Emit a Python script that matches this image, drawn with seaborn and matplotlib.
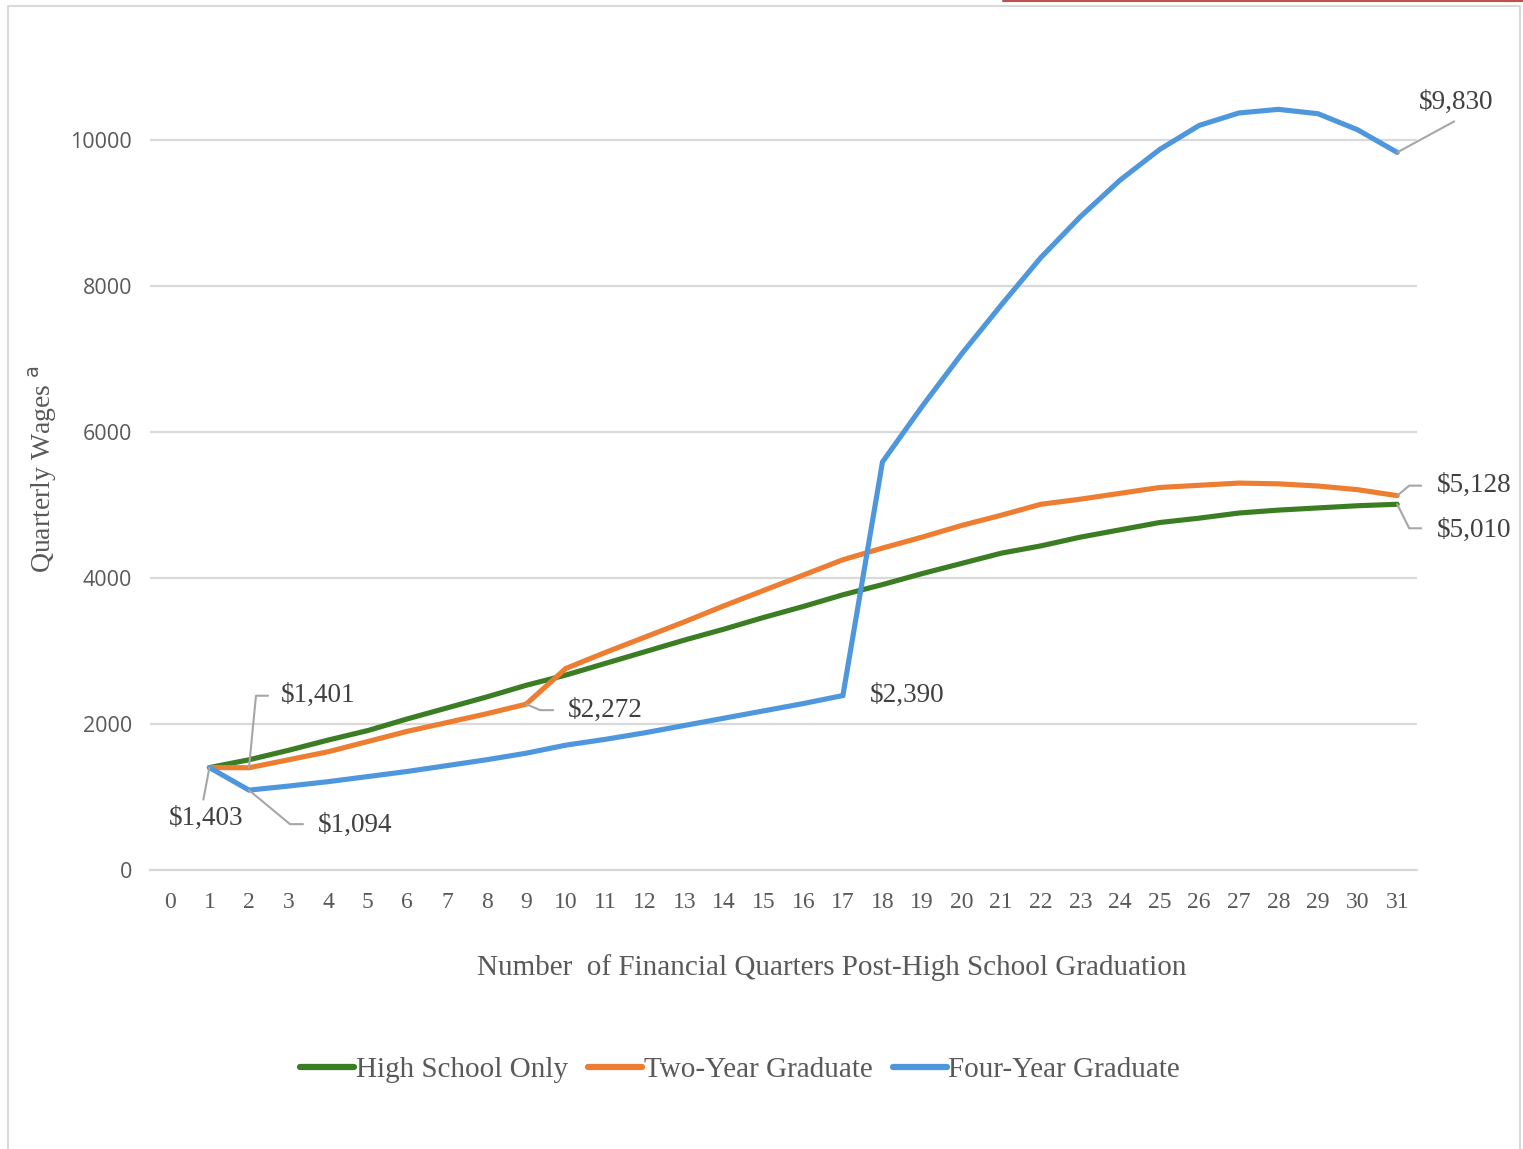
import matplotlib
matplotlib.use("Agg")
import matplotlib.pyplot as plt
from matplotlib.lines import Line2D
import numpy as np
import pandas as pd
import seaborn as sns

# Quarterly wages by education group, quarters 1..31 after high school graduation
quarters = list(range(1, 32))
high_school = [1403, 1510, 1640, 1780, 1910, 2070, 2220, 2370, 2530, 2670,
               2830, 2990, 3150, 3300, 3460, 3610, 3770, 3910, 4060, 4200,
               4340, 4440, 4560, 4660, 4760, 4820, 4890, 4930, 4960, 4990, 5010]
two_year = [1403, 1401, 1510, 1620, 1760, 1900, 2020, 2140, 2272, 2760,
            2980, 3190, 3400, 3620, 3830, 4040, 4250, 4410, 4560, 4720,
            4860, 5010, 5080, 5160, 5240, 5270, 5300, 5290, 5260, 5210, 5128]
four_year = [1403, 1094, 1150, 1210, 1280, 1350, 1430, 1510, 1600, 1710,
             1790, 1880, 1980, 2080, 2180, 2280, 2390, 5590, 6350, 7070,
             7740, 8390, 8950, 9450, 9870, 10200, 10370, 10420, 10360, 10140, 9830]
series_names = ["High School Only", "Two-Year Graduate", "Four-Year Graduate"]
series_colors = ["#3b7d23", "#ed7d31", "#4e97dd"]
x_ticks = list(range(0, 32))
y_ticks = [0, 2000, 4000, 6000, 8000, 10000]

df = pd.DataFrame({
    "quarter": quarters * 3,
    "wage": high_school + two_year + four_year,
    "group": np.repeat(series_names, len(quarters)),
})

sns.set_theme(style="white")
plt.rcParams["font.family"] = ["Liberation Serif", "DejaVu Serif"]

DPI = 100
W, H = 1523, 1149
fig = plt.figure(figsize=(W / DPI, H / DPI), dpi=DPI)
ax = fig.add_axes([150 / W, 279 / H, (1417 - 150) / W, (1082 - 279) / H])

sns.lineplot(data=df, x="quarter", y="wage", hue="group", hue_order=series_names,
             palette=series_colors, linewidth=3.7, ax=ax, legend=False,
             solid_joinstyle="miter")

ax.set_xlim(-0.5, 31.5)
ax.set_ylim(0, 11000)
ax.set_xticks(x_ticks)
ax.set_xticklabels([str(t) for t in x_ticks], fontsize=17, color="#595959")
ax.set_yticks(y_ticks)
ax.set_yticklabels([str(t) for t in y_ticks], fontsize=15.5, color="#595959",
                   family=["Open Sans", "DejaVu Sans"])
ax.tick_params(axis="both", length=0)
ax.tick_params(axis="x", pad=16)
ax.tick_params(axis="y", pad=13)

ax.grid(axis="y", color="#d9d9d9", linewidth=1.6)
ax.grid(axis="x", visible=False)
ax.set_axisbelow(True)
for side in ["top", "right", "left"]:
    ax.spines[side].set_visible(False)
ax.spines["bottom"].set_color("#d9d9d9")
ax.spines["bottom"].set_linewidth(1.6)

ax.set_xlabel("Number  of Financial Quarters Post-High School Graduation",
              fontsize=21, color="#595959")
ax.xaxis.set_label_coords((832 - 150) / (1417 - 150), -(968 - 870) / (1082 - 279))
ax.xaxis.label.set_va("center")
ax.set_ylabel(r"Quarterly Wages $^{\mathrm{a}}$", fontsize=20, color="#595959")
ax.yaxis.set_label_coords((43 - 150) / (1417 - 150), 0.5)
ax.yaxis.label.set_va("center")

# value callouts with leader lines (offsets in pixels)
label_color = "#404040"
leader_color = "#a6a6a6"
callouts = [
    (quarters[0], high_school[0], (-3, -51), [(0, 0), (-6, -32)]),
    (quarters[1], four_year[1], (106, -35), [(0, 0), (41, -34), (54, -34)]),
    (quarters[1], two_year[1], (69, 72), [(0, 0), (7, 72), (19, 72)]),
    (quarters[8], two_year[8], (79, -6), [(0, 0), (14, -6), (27, -6)]),
    (quarters[16], four_year[16], (64, 0), None),
    (quarters[30], four_year[30], (59, 50), [(0, 0), (57, 31)]),
    (quarters[30], two_year[30], (77, 10), [(0, 0), (12, 10), (24, 10)]),
    (quarters[30], high_school[30], (77, -26), [(0, 0), (12, -24), (24, -24)]),
]
for q, v, (dx, dy), path in callouts:
    ax.annotate(f"${v:,}", xy=(q, v), xytext=(dx, dy), textcoords="offset pixels",
                ha="center", va="center", fontsize=19.5, color=label_color)
    if path:
        px, py = ax.transData.transform((q, v))
        xs = [px + p[0] for p in path]
        ys = [py + p[1] for p in path]
        fig.add_artist(Line2D(xs, ys, transform=None, color=leader_color,
                              linewidth=1.5, zorder=5))

handles = [Line2D([0], [0], color=c, linewidth=4.5) for c in series_colors]
fig.legend(handles, series_names, loc="center", bbox_to_anchor=(740 / W, 1 - 1070 / H),
           ncol=3, frameon=False, fontsize=21, handlelength=1.85, handletextpad=0.05,
           columnspacing=0.7, labelcolor="#595959")

# chart frame
frame_color = "#d9d9d9"
fig.add_artist(Line2D([8 / W, 8 / W, 1520 / W, 1520 / W],
                      [0, 1 - 6 / H, 1 - 6 / H, 0],
                      transform=fig.transFigure, color=frame_color, linewidth=1.5))
fig.add_artist(Line2D([1003 / W, 1], [1 - 1 / H, 1 - 1 / H],
                      transform=fig.transFigure, color="#c0504d", linewidth=1.5))

fig.savefig("out.png", dpi=DPI, facecolor="white")
